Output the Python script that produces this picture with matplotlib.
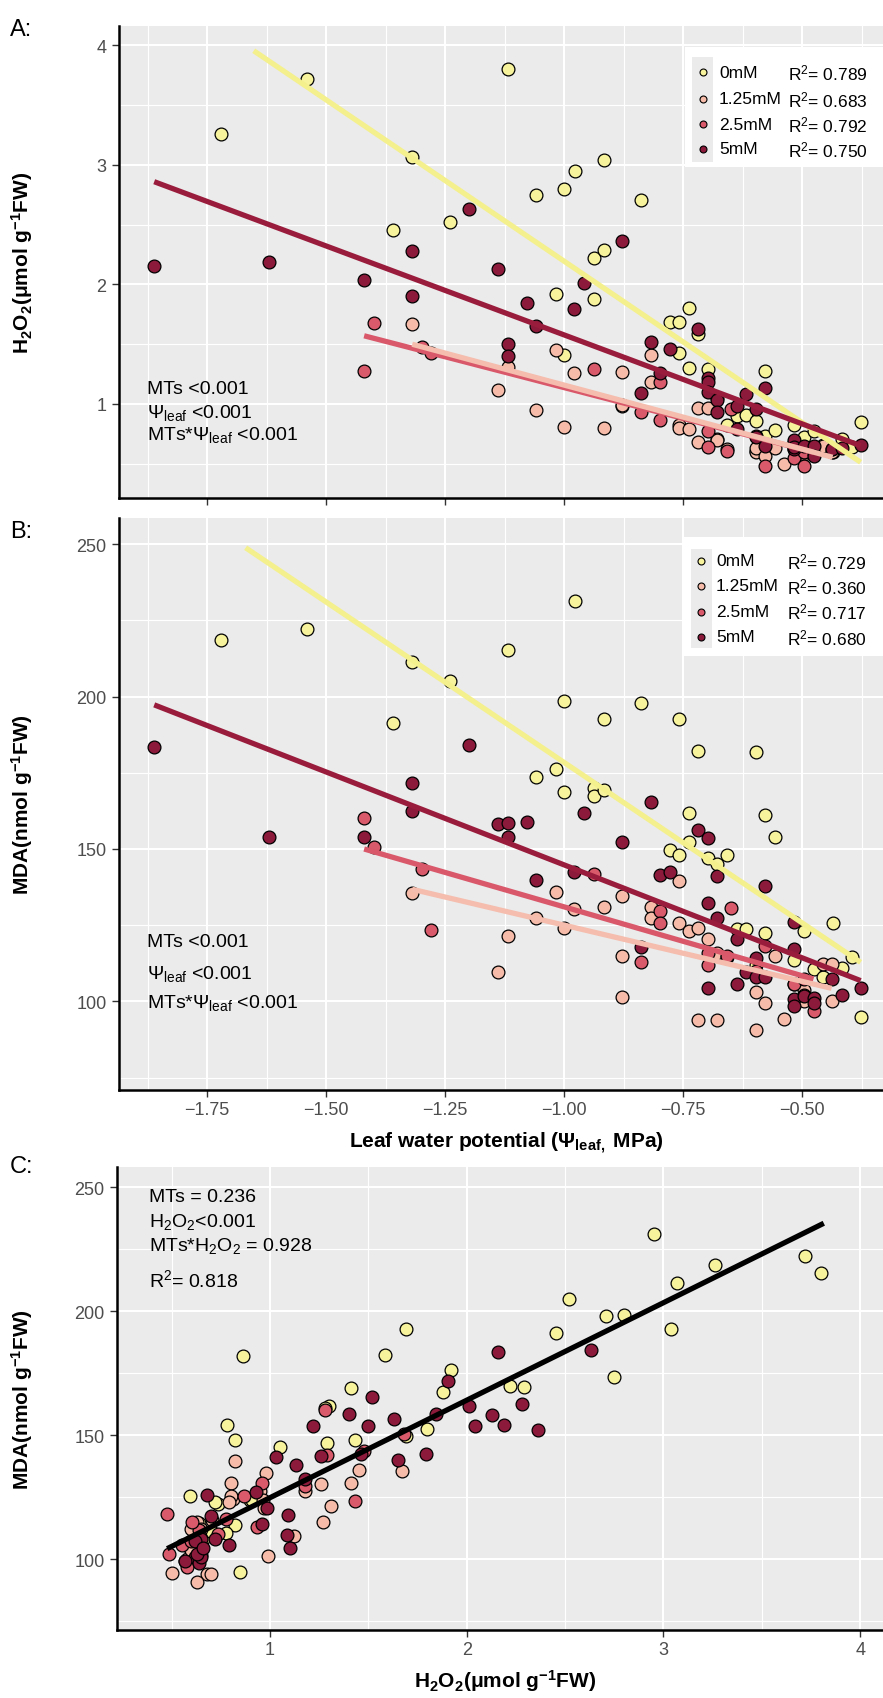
import numpy as np
import matplotlib
matplotlib.use("Agg")
import matplotlib.pyplot as plt
from matplotlib.patches import Rectangle
from matplotlib.lines import Line2D

plt.rcParams['font.family'] = ['Liberation Sans', 'DejaVu Sans']
plt.rcParams['mathtext.fontset'] = 'custom'
plt.rcParams['mathtext.rm'] = 'Liberation Sans'
plt.rcParams['mathtext.it'] = 'Liberation Sans:italic'
plt.rcParams['mathtext.bf'] = 'Liberation Sans:bold'
plt.rcParams['axes.unicode_minus'] = True

# ---------------- data ----------------
groups = ['0mM', '1.25mM', '2.5mM', '5mM']
fill_colors = ['#F7F39C', '#F6BCA9', '#D85A6B', '#8C1A3A']
line_colors = ['#F4F08E', '#F5BDAD', '#D9586A', '#9A1C3C']

psi_0 = [-1.72, -1.54, -1.359, -1.319, -1.239, -1.118, -1.058, -1.018, -1.000, -1.000,
         -0.978, -0.938, -0.938, -0.917, -0.917, -0.838, -0.777, -0.758, -0.758, -0.738,
         -0.738, -0.718, -0.697, -0.678, -0.657, -0.637, -0.618, -0.597, -0.597, -0.578,
         -0.578, -0.557, -0.518, -0.497, -0.476, -0.455, -0.436, -0.417, -0.396, -0.377]
h2o2_0 = [3.26, 3.72, 2.456, 3.07, 2.52, 3.80, 2.75, 1.92, 2.80, 1.41,
          2.95, 2.22, 1.88, 3.04, 2.29, 2.71, 1.69, 1.69, 1.43, 1.80,
          1.30, 1.586, 1.29, 1.05, 0.82, 0.90, 0.908, 0.86, 0.61, 1.28,
          0.735, 0.78, 0.82, 0.72, 0.777, 0.66, 0.595, 0.707, 0.64, 0.847]
mda_0 = [218.6, 222.1, 191.3, 211.4, 205.0, 215.3, 173.5, 176.2, 198.6, 168.8,
         231.2, 169.9, 167.5, 192.6, 169.3, 198.0, 149.7, 192.8, 148.0, 152.4,
         161.8, 182.1, 146.9, 145.0, 148.0, 123.7, 123.7, 181.7, 112.0, 161.1,
         122.4, 154.0, 113.6, 123.0, 110.6, 107.9, 125.6, 110.9, 114.4, 94.9]

psi_1 = [-1.319, -1.139, -1.118, -1.058, -1.018, -1.000, -0.979, -0.917, -0.878, -0.878,
         -0.878, -0.818, -0.818, -0.758, -0.758, -0.738, -0.718, -0.718, -0.697, -0.678,
         -0.678, -0.657, -0.597, -0.597, -0.578, -0.557, -0.538, -0.518, -0.497, -0.497,
         -0.455, -0.438, -0.438]
h2o2_1 = [1.67, 1.12, 1.31, 0.947, 1.45, 0.81, 1.257, 0.80, 1.27, 0.98,
          0.99, 1.41, 1.18, 0.824, 0.80, 0.79, 0.964, 0.68, 0.97, 0.707,
          0.70, 0.62, 0.60, 0.63, 0.567, 0.63, 0.50, 0.62, 0.58, 0.60,
          0.65, 0.60, 0.62]
mda_1 = [135.5, 109.5, 121.3, 127.3, 136.0, 124.1, 130.3, 130.8, 115.0, 134.6,
         101.4, 130.8, 127.3, 139.6, 125.6, 123.2, 124.0, 94.0, 120.4, 115.8,
         94.0, 114.4, 103.2, 90.7, 99.4, 115.0, 94.2, 105.7, 100.2, 103.8,
         112.2, 112.2, 100.2]

psi_2 = [-1.42, -1.40, -1.298, -1.279, -0.938, -0.838, -0.798, -0.798, -0.697, -0.697,
         -0.650, -0.658, -0.597, -0.578, -0.517, -0.497, -0.497, -0.476]
h2o2_2 = [1.28, 1.68, 1.48, 1.43, 1.29, 0.936, 1.18, 0.866, 0.777, 0.64,
          0.958, 0.605, 0.735, 0.478, 0.55, 0.484, 0.60, 0.58]
mda_2 = [160.0, 150.5, 143.4, 123.4, 141.8, 112.8, 129.5, 125.6, 116.0, 111.9,
         130.6, 114.8, 110.0, 118.0, 105.7, 102.0, 107.3, 96.9]

psi_3 = [-1.861, -1.62, -1.42, -1.319, -1.319, -1.199, -1.139, -1.118, -1.118, -1.078,
         -1.058, -0.979, -0.959, -0.878, -0.838, -0.818, -0.798, -0.777, -0.718, -0.697,
         -0.697, -0.697, -0.678, -0.678, -0.637, -0.637, -0.618, -0.597, -0.597, -0.578,
         -0.578, -0.517, -0.517, -0.517, -0.517, -0.497, -0.476, -0.476, -0.438, -0.417,
         -0.377]
h2o2_3 = [2.157, 2.19, 2.04, 2.28, 1.906, 2.63, 2.13, 1.50, 1.40, 1.845,
          1.65, 1.795, 2.01, 2.36, 1.09, 1.52, 1.257, 1.46, 1.63, 1.22,
          1.18, 1.10, 1.03, 0.93, 0.986, 0.79, 1.084, 0.958, 0.72, 1.13,
          0.65, 0.68, 0.70, 0.62, 0.64, 0.65, 0.65, 0.567, 0.62, 0.63,
          0.66]
mda_3 = [183.5, 154.0, 153.8, 162.5, 171.8, 184.2, 158.2, 153.8, 158.5, 158.7,
         139.9, 142.5, 161.8, 152.2, 117.8, 165.3, 141.5, 142.3, 156.3, 153.5,
         132.3, 104.3, 141.2, 127.2, 120.4, 105.6, 109.7, 114.1, 108.1, 137.9,
         108.1, 125.9, 117.2, 100.8, 98.6, 101.8, 101.0, 99.4, 107.3, 102.1,
         104.3]

psi_all = [psi_0, psi_1, psi_2, psi_3]
h2o2_all = [h2o2_0, h2o2_1, h2o2_2, h2o2_3]
mda_all = [mda_0, mda_1, mda_2, mda_3]

# regression lines (slope, intercept, x-range) per group
fitA_slope = [-2.701, -1.071, -1.032, -1.489]
fitA_int = [-0.506, 0.087, 0.105, 0.089]
fitA_x0 = [-1.652, -1.319, -1.42, -1.861]
fitA_x1 = [-0.377, -0.436, -0.476, -0.377]
fitB_slope = [-105.3, -36.9, -45.2, -60.98]
fitB_int = [73.1, 88.1, 85.8, 83.8]
fitB_x0 = [-1.669, -1.319, -1.42, -1.861]
fitB_x1 = [-0.377, -0.438, -0.476, -0.377]
fitC_slope = 39.31
fitC_int = 85.45
fitC_x0 = 0.477
fitC_x1 = 3.815

r2_A = ['0.789', '0.683', '0.792', '0.750']
r2_B = ['0.729', '0.360', '0.717', '0.680']

psi_ticks = [-1.75, -1.50, -1.25, -1.00, -0.75, -0.50]
psi_ticklabels = ['\u22121.75', '\u22121.50', '\u22121.25', '\u22121.00', '\u22120.75', '\u22120.50']
h2o2_ticks = [1, 2, 3, 4]
mda_ticks = [100, 150, 200, 250]

annot_A = ['MTs <0.001', r'$\Psi_{\rm leaf}$ <0.001', r'MTs*$\Psi_{\rm leaf}$ <0.001']
annot_C = ['MTs = 0.236', r'H$_2$O$_2$<0.001', r'MTs*H$_2$O$_2$ = 0.928', r'R$^2$= 0.818']

# ---------------- figure ----------------
W, H = 883, 1699
fig = plt.figure(figsize=(W / 100, H / 100), dpi=100)
fig.patch.set_facecolor('white')


def add_axes_px(L, T, R, B):
    return fig.add_axes([L / W, 1 - B / H, (R - L) / W, (B - T) / H])


def fx(px):
    return px / W


def fy(py):
    return 1 - py / H


def style(ax, xmaj, xmin, ymaj, ymin):
    ax.set_facecolor('#EBEBEB')
    for s in ['top', 'right']:
        ax.spines[s].set_visible(False)
    for s in ['left', 'bottom']:
        ax.spines[s].set_color('black')
        ax.spines[s].set_linewidth(1.8)
    ax.set_xticks(xmaj)
    ax.set_xticks(xmin, minor=True)
    ax.set_yticks(ymaj)
    ax.set_yticks(ymin, minor=True)
    ax.grid(which='major', color='white', lw=1.5)
    ax.grid(which='minor', color='white', lw=0.8)
    ax.set_axisbelow(True)
    ax.tick_params(which='major', length=5, width=1.0, color='#333333',
                   labelsize=13, labelcolor='#4D4D4D')
    ax.tick_params(axis='x', which='major', pad=3)
    ax.tick_params(axis='y', which='major', pad=4)
    ax.tick_params(which='minor', length=0)


PT_S = 85
PT_LW = 0.9
FIT_LW = 3.8

# ---- Panel A ----
axA = add_axes_px(119, 27, 883, 499)
axA.set_xlim(-1.935, -0.330)
axA.set_ylim(0.213, 4.163)
style(axA, psi_ticks, np.arange(-1.875, -0.3, 0.25), h2o2_ticks, [0.5, 1.5, 2.5, 3.5])
axA.set_xticklabels([])
axA.set_yticklabels([str(t) for t in h2o2_ticks])
for g in range(4):
    axA.scatter(psi_all[g], h2o2_all[g], s=PT_S, c=fill_colors[g], edgecolors='black',
                linewidths=PT_LW, zorder=3)
for g in [0, 2, 1, 3]:
    xs = np.array([fitA_x0[g], fitA_x1[g]])
    axA.plot(xs, fitA_slope[g] * xs + fitA_int[g], color=line_colors[g], lw=FIT_LW,
             solid_capstyle='butt', zorder=4)
axA.set_ylabel(r'$\mathbf{H_2O_2(\mu mol\ g^{-1}FW)}$', fontsize=15)
axA.yaxis.set_label_coords((35 - 119) / 764, 0.5)

# ---- Panel B ----
axB = add_axes_px(119, 519, 883, 1091)
axB.set_xlim(-1.935, -0.330)
axB.set_ylim(70.9, 258.6)
style(axB, psi_ticks, np.arange(-1.875, -0.3, 0.25), mda_ticks, [75, 125, 175, 225])
axB.set_xticklabels(psi_ticklabels)
axB.set_yticklabels([str(t) for t in mda_ticks])
for g in range(4):
    axB.scatter(psi_all[g], mda_all[g], s=PT_S, c=fill_colors[g], edgecolors='black',
                linewidths=PT_LW, zorder=3)
for g in [0, 2, 1, 3]:
    xs = np.array([fitB_x0[g], fitB_x1[g]])
    axB.plot(xs, fitB_slope[g] * xs + fitB_int[g], color=line_colors[g], lw=FIT_LW,
             solid_capstyle='butt', zorder=4)
axB.set_ylabel(r'$\mathbf{MDA(nmol\ g^{-1}FW)}$', fontsize=15)
axB.yaxis.set_label_coords((35 - 119) / 764, 0.5)

# ---- Panel C ----
axC = add_axes_px(117, 1168, 883, 1631)
axC.set_xlim(0.222, 4.116)
axC.set_ylim(71.4, 258.1)
style(axC, h2o2_ticks, [0.5, 1.5, 2.5, 3.5], mda_ticks, [75, 125, 175, 225])
axC.set_xticklabels([str(t) for t in h2o2_ticks])
axC.set_yticklabels([str(t) for t in mda_ticks])
for g in range(4):
    axC.scatter(h2o2_all[g], mda_all[g], s=PT_S, c=fill_colors[g], edgecolors='black',
                linewidths=PT_LW, zorder=3)
xs = np.array([fitC_x0, fitC_x1])
axC.plot(xs, fitC_slope * xs + fitC_int, color='black', lw=FIT_LW, solid_capstyle='butt', zorder=4)
axC.set_ylabel(r'$\mathbf{MDA(nmol\ g^{-1}FW)}$', fontsize=15)
axC.yaxis.set_label_coords((35 - 117) / 766, 0.5)

# ---- axis titles ----
fig.text(fx(506), fy(1143), r'$\mathbf{Leaf\ water\ potential\ (\Psi_{leaf,}\ MPa)}$',
         fontsize=15, ha='center', va='center')
fig.text(fx(505), fy(1681), r'$\mathbf{H_2O_2(\mu mol\ g^{-1}FW)}$',
         fontsize=15, ha='center', va='center')

# ---- panel labels ----
for lab, py in [('A:', 30), ('B:', 532), ('C:', 1167)]:
    fig.text(fx(10), fy(py), lab, fontsize=17, ha='left', va='center')

# ---- annotations ----
for txt, py in zip(annot_A, [390, 413, 435]):
    fig.text(fx(147), fy(py), txt, fontsize=14, ha='left', va='center', zorder=6)
for txt, py in zip(annot_A, [943, 974, 1003]):
    fig.text(fx(147), fy(py), txt, fontsize=14, ha='left', va='center', zorder=6)
for txt, py in zip(annot_C, [1198, 1222, 1246, 1280]):
    fig.text(fx(149), fy(py), txt, fontsize=14, ha='left', va='center', zorder=6)


# ---- legends ----
def draw_legend(box, strip, rows, mx, tx, rx, r2vals):
    L, T, R, B = box
    fig.add_artist(Rectangle((fx(L), fy(B)), (R - L) / W, (B - T) / H, transform=fig.transFigure,
                             facecolor='white', edgecolor='none', zorder=5))
    L2, T2, R2, B2 = strip
    fig.add_artist(Rectangle((fx(L2), fy(B2)), (R2 - L2) / W, (B2 - T2) / H,
                             transform=fig.transFigure, facecolor='#EBEBEB', edgecolor='none',
                             zorder=5.5))
    for g, py in enumerate(rows):
        fig.add_artist(Line2D([fx(mx)], [fy(py)], marker='o', ms=5, mfc=fill_colors[g],
                              mec='black', mew=0.8, ls='none', transform=fig.transFigure,
                              zorder=6))
        fig.text(fx(tx), fy(py), groups[g], fontsize=12.5, ha='left', va='center', zorder=6)
        fig.text(fx(rx), fy(py), r'R$^2$= ' + r2vals[g], fontsize=12.5, ha='left',
                 va='center', zorder=6)


draw_legend((685, 48, 883, 168), (692, 58, 713, 163), [73, 100, 125, 150], 703, 719, 788, r2_A)
draw_legend((684, 538, 883, 657), (691, 550, 712, 649), [562, 587, 612.5, 638], 701, 716, 787, r2_B)

fig.savefig('out.png', dpi=100, facecolor='white')
